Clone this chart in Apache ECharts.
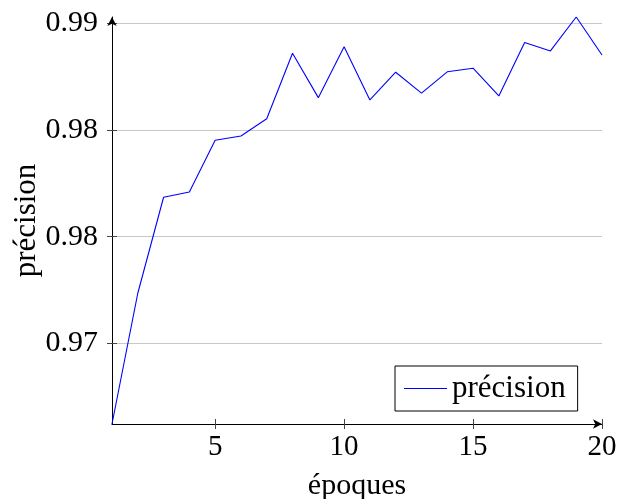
<!DOCTYPE html>
<html><head><meta charset="utf-8">
<script src="https://cdn.jsdelivr.net/npm/echarts@6/dist/echarts.min.js"></script>
<style>html,body{margin:0;padding:0;background:#fff}#c{width:619px;height:499px}</style>
</head><body><div id="c"></div>
<script>
const epochs = [1,2,3,4,5,6,7,8,9,10,11,12,13,14,15,16,17,18,19,20];
const accuracy = [0.96622,0.97235,0.97685,0.97710,0.97952,0.97972,0.98053,0.98360,0.98152,0.98391,
                  0.98141,0.98271,0.98173,0.98273,0.98290,0.98160,0.98410,0.98371,0.98530,0.98352];
const xTicks = [5,10,15,20];
const yTicks = [0.970,0.975,0.980,0.985];
const yTickLabels = ['0.97','0.98','0.98','0.99'];
const seriesName = 'précision';
const xName = 'époques';
const yName = 'précision';

const FONT = "'Liberation Serif', 'Times New Roman', serif";
const yMin = Math.min(...accuracy), yMax = Math.max(...accuracy);
const xMin = Math.min(...epochs), xMax = Math.max(...epochs);

function yLabel(v){
  let best = 0, d = Infinity;
  yTicks.forEach((t,i)=>{ const dd = Math.abs(t - v); if (dd < d){ d = dd; best = i; } });
  return yTickLabels[best];
}

const chart = echarts.init(document.getElementById('c'), null, {renderer:'canvas'});
chart.setOption({
  animation: false,
  backgroundColor: '#fff',
  grid: { left: 112, right: 17, top: 17, bottom: 75, containLabel: false, outerBoundsMode: 'none' },
  legend: {
    data: [{ name: seriesName, icon: 'rect' }],
    left: 395, top: 366,
    orient: 'horizontal',
    padding: [7, 12, 7, 9],
    borderColor: '#000', borderWidth: 1,
    itemWidth: 43, itemHeight: 1.2, itemGap: 5,
    itemStyle: { color: '#0000ff', borderWidth: 0 },
    textStyle: { fontFamily: FONT, fontSize: 31, color: '#000', lineHeight: 30 }
  },
  xAxis: [{
    type: 'value', min: xMin, max: xMax,
    name: xName, nameLocation: 'middle', nameGap: 47, nameMoveOverlap: false,
    nameTextStyle: { fontFamily: FONT, fontSize: 30, color: '#000' },
    axisLine: { show: true, lineStyle: { color: '#000', width: 1 }, symbol: ['none','arrow'], symbolSize: [7, 9] },
    axisTick: { show: true, length: 5, customValues: xTicks, lineStyle: { color: '#444' } },
    axisLabel: { customValues: xTicks, fontFamily: FONT, fontSize: 29, color: '#000', margin: 9 },
    splitLine: { show: false }
  },{
    type: 'value', min: xMin, max: xMax, position: 'bottom',
    axisLine: { show: false },
    axisTick: { show: true, inside: true, length: 5, customValues: xTicks, lineStyle: { color: '#444' } },
    axisLabel: { show: false }, splitLine: { show: false }
  }],
  yAxis: [{
    type: 'value', min: yMin, max: yMax,
    name: yName, nameLocation: 'middle', nameGap: 70, nameMoveOverlap: false,
    nameTextStyle: { fontFamily: FONT, fontSize: 31, color: '#000' },
    axisLine: { show: true, lineStyle: { color: '#000', width: 1 }, symbol: ['none','arrow'], symbolSize: [7, 9] },
    axisTick: { show: true, length: 5, customValues: yTicks, lineStyle: { color: '#444' } },
    axisLabel: { customValues: yTicks, formatter: yLabel, fontFamily: FONT, fontSize: 30, color: '#000', margin: 14 },
    splitLine: { show: true, lineStyle: { color: '#c8c8c8', width: 1 } }
  },{
    type: 'value', min: yMin, max: yMax, position: 'left',
    axisLine: { show: false },
    axisTick: { show: true, inside: true, length: 5, customValues: yTicks, lineStyle: { color: '#444' } },
    axisLabel: { show: false }, splitLine: { show: false }
  }],
  series: [{
    name: seriesName, type: 'line',
    xAxisIndex: 0, yAxisIndex: 0,
    data: epochs.map((e,i)=>[e, accuracy[i]]),
    showSymbol: false, symbol: 'none',
    lineStyle: { color: '#0000ff', width: 1.1 },
    itemStyle: { color: '#0000ff' }
  }]
});
</script></body></html>
